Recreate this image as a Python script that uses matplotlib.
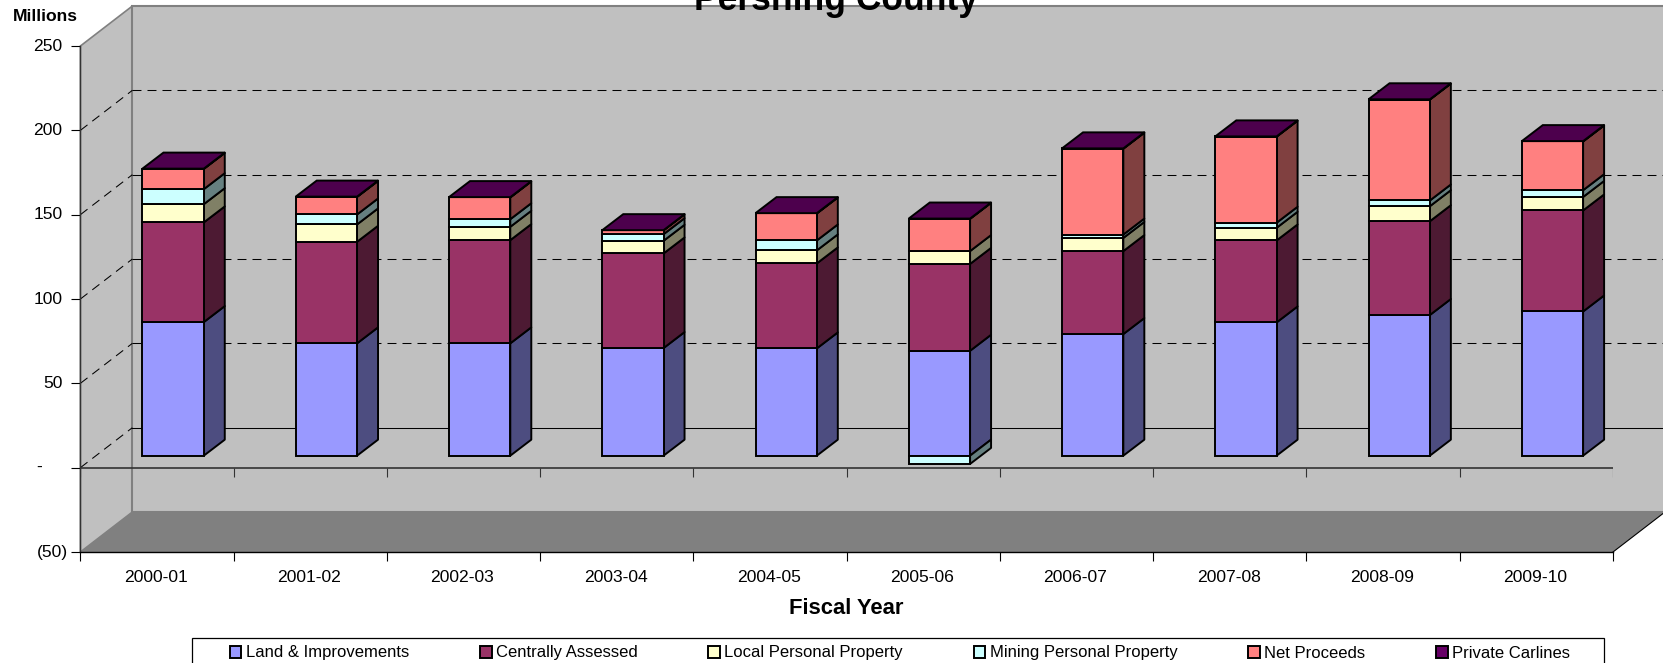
import matplotlib

matplotlib.use('Agg')

import matplotlib.pyplot as plt
from matplotlib.patches import Patch, Rectangle

plt.rcParams['font.family'] = ['Liberation Sans', 'DejaVu Sans']

years = ['2000-01', '2001-02', '2002-03', '2003-04', '2004-05',
         '2005-06', '2006-07', '2007-08', '2008-09', '2009-10']
names = ['Land & Improvements', 'Centrally Assessed', 'Local Personal Property',
         'Mining Personal Property', 'Net Proceeds', 'Private Carlines']

land = [79.2, 66.6, 66.6, 63.8, 63.6, 62.2, 72.1, 79.0, 83.4, 85.5]
central = [59.1, 60.2, 61.2, 56.1, 50.4, 51.5, 49.2, 48.6, 55.6, 59.9]
local = [10.8, 10.3, 7.9, 7.5, 7.7, 7.6, 7.8, 7.5, 8.9, 8.0]
mining = [8.9, 5.9, 4.5, 3.9, 5.9, -4.9, 2.0, 3.0, 3.4, 4.0]
net = [12.0, 10.4, 12.9, 2.3, 16.0, 19.1, 50.9, 51.0, 59.8, 28.9]
carlines = [0.2, 0.2, 0.2, 0.1, 0.2, 0.2, 0.2, 0.2, 0.2, 0.2]
series = [land, central, local, mining, net, carlines]

front = ['#9999FF', '#993366', '#FFFFCC', '#CCFFFF', '#FF8080', '#660066']
side = ['#4D4D80', '#4D1A33', '#808066', '#668080', '#804040', '#4D004D']
top_col = '#4D004D'

y_ticks = [-50, 0, 50, 100, 150, 200, 250]
y_labels = ['(50)', '-', '50', '100', '150', '200', '250']
y_shift = [-12, -38, -18, -18, -18, -18, -18]  # px left of the axis

# depth of the box and of the bars, in x slots and y units
wall_dx, wall_dy = 0.339, 23.7
bar_dx, bar_dy = 0.137, 9.5
off_x, off_y = 0.105, 7.1
bar_w = 0.4

W, H = 1663, 663
fig = plt.figure(figsize=(W / 100, H / 100), dpi=100)
ax = fig.add_axes([80.4 / W, (H - 552) / H, 1532.6 / W, 506 / H])
ax.set_xlim(0, 10)
ax.set_ylim(-50, 250)
ax.patch.set_visible(False)

# walls and floor
ax.fill([0, wall_dx, wall_dx, 0], [-50, -50 + wall_dy, 250 + wall_dy, 250],
        fc='#C0C0C0', ec='#808080', lw=1.2, clip_on=False, zorder=1)
ax.fill([wall_dx, 10 + wall_dx, 10 + wall_dx, wall_dx],
        [-50 + wall_dy, -50 + wall_dy, 250 + wall_dy, 250 + wall_dy],
        fc='#C0C0C0', ec='#808080', lw=1.5, clip_on=False, zorder=1)
ax.fill([0, 10, 10 + wall_dx, wall_dx], [-50, -50, -50 + wall_dy, -50 + wall_dy],
        fc='#808080', ec='none', clip_on=False, zorder=1.5)
ax.plot([10, 10 + wall_dx], [-50, -50 + wall_dy], color='black', lw=0.8,
        clip_on=False, zorder=1.6)

# gridlines, back wall and left wall; at zero the back line reads as solid
dash = (0, (8.6, 5.8))
for v in y_ticks[1:-1]:
    ax.plot([0, wall_dx], [v, v + wall_dy], color='black', lw=0.75, ls=dash,
            clip_on=False, zorder=2)
    ax.plot([wall_dx, 10 + wall_dx], [v + wall_dy, v + wall_dy], color='black', lw=0.75,
            ls='-' if v == 0 else dash, clip_on=False, zorder=2)

# the zero axis with its ticks
ax.plot([0, 10], [0, 0], color='#333333', lw=1.2, zorder=3)
ax.vlines(range(11), -5.3, 0, color='#333333', lw=0.8, zorder=3)


def draw_segment(i, start, val, k):
    x0 = i + 0.3 + off_x
    y0 = start + off_y
    y1 = y0 + val
    x1 = x0 + bar_w
    ax.fill([x1, x1 + bar_dx, x1 + bar_dx, x1],
            [y0, y0 + bar_dy, y1 + bar_dy, y1],
            fc=side[k], ec='black', lw=1.4, joinstyle='round', zorder=4)
    ax.bar(x0, val, bar_w, bottom=y0, align='edge', color=front[k], edgecolor='black',
           lw=1.4, zorder=4.2)


for i in range(len(years)):
    pos = 0
    neg = 0
    for k, s in enumerate(series):
        if s[i] < 0:
            draw_segment(i, neg, s[i], k)
            neg += s[i]
        else:
            draw_segment(i, pos, s[i], k)
            pos += s[i]
    x0 = i + 0.3 + off_x
    y1 = pos + off_y
    ax.fill([x0, x0 + bar_w, x0 + bar_w + bar_dx, x0 + bar_dx],
            [y1, y1, y1 + bar_dy, y1 + bar_dy],
            fc=top_col, ec='black', lw=1.4, zorder=4.4)

# axes
for sp in ['top', 'right']:
    ax.spines[sp].set_visible(False)
ax.spines['left'].set_color('#333333')
ax.spines['left'].set_linewidth(1.0)
ax.spines['bottom'].set_linewidth(1.0)

ax.set_yticks(y_ticks)
ax.tick_params(axis='y', length=6.5, width=0.8, labelleft=False)
for v, lab, dx in zip(y_ticks, y_labels, y_shift):
    ax.annotate(lab, (0, v), xytext=(dx * 0.72, 0), textcoords='offset points',
                ha='right', va='center', fontsize=12.6, annotation_clip=False)

ax.set_xticks(range(11))
ax.set_xticklabels([])
ax.set_xticks([i + 0.493 for i in range(10)], minor=True)
ax.set_xticklabels(years, minor=True, fontsize=12.6)
ax.tick_params(axis='x', which='major', length=6.5, width=0.8)
ax.tick_params(axis='x', which='minor', length=0, pad=13)
ax.set_xlabel('Fiscal Year', fontsize=15.8, fontweight='bold', labelpad=9.5)

fig.text(836 / W, 1 - 10 / H, 'Pershing County', fontsize=25.6, fontweight='bold',
         ha='center', va='baseline')
fig.text(12.5 / W, 1 - 21 / H, 'Millions', fontsize=12.6, fontweight='bold',
         ha='left', va='baseline')

# legend box runs off the bottom of the picture
fig.add_artist(Rectangle((192 / W, 1 - 668 / H), 1412 / W, 30.3 / H, fc='white',
                         ec='black', lw=0.9, transform=fig.transFigure))
handles = [Patch(fc=c, ec='black', lw=1.4) for c in front]
fig.legend(handles, names, ncol=6, frameon=False, loc='center left',
           bbox_to_anchor=(229.5 / W, 1 - 653 / H), bbox_transform=fig.transFigure,
           fontsize=11.95, borderpad=0, borderaxespad=0, handlelength=0.72,
           handleheight=0.72, handletextpad=0.25, columnspacing=4.26)

fig.savefig('out.png', dpi=100)
